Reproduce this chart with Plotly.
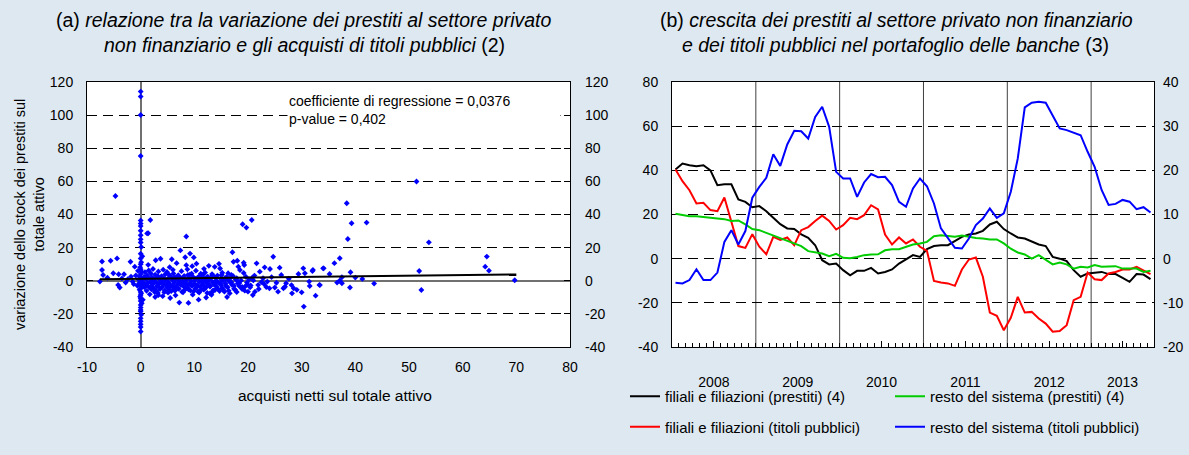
import plotly.graph_objects as go

# ---------------- panel (a): scatter data ----------------
# points on / near the vertical axis (x ~ 0)
pts_axis = [(0, 114.2), (0, 111.2), (0, 100.1), (0, 75.3), (0, 36.4), (0, 34.5), (0, 33.0), (0, 30.2),
            (0, 27.5), (0, 25.0), (0, 23.1), (0.1, 20.4), (0, 16.3), (0, 13.5), (0.1, 11.2), (0, 10.0),
            (-0.1, 8.1), (0, 7.0), (0.2, 5.5), (0, 4.1), (-0.2, 2.6), (0, 1.6), (0.1, 0.4), (0, -0.8),
            (-0.3, -1.5), (0, -2.4), (0.2, -3.5), (0, -4.7), (-0.2, -5.5), (0, -6.8), (0.1, -7.5), (0, -8.6),
            (-0.1, -9.6), (0, -10.8), (0, -12.2), (0.2, -13.6), (0, -14.6), (0, -16.2), (0, -17.6), (0, -18.6),
            (0.1, -20.6), (0, -22.7), (0, -24.5), (0, -26.3), (0, -28.0), (0, -30.7), (1.2, 28.6), (1.8, 36.7),
            (1.4, 28.7), (-0.4, 0.8), (-0.6, -3.0), (0.3, 14.8), (0.4, -11.5), (-0.5, 6.0)]

# points with negative purchases
pts_left = [(-7.6, -0.5), (-7.2, 11.6), (-7.2, 6.5), (-7.0, 3.5), (-5.6, 12.1), (-5.1, 4.5), (-4.7, 51.2),
            (-4.4, 13.5), (-4.1, 3.9), (-4.2, -2.5), (-3.9, -4.1), (-3.1, 3.9), (-2.8, -1.1), (-1.9, 11.5),
            (-1.1, 8.5), (-1.5, -0.5), (-1.8, 2.5), (-2.4, 0.9), (-3.5, 1.4), (-6.2, 1.8), (-1.3, -2.0),
            (-0.9, 3.2)]

# main cloud
pts_cloud = [(0.5, -1.2), (0.6, 2.3), (0.7, -4.0), (0.8, 5.1), (0.9, -2.7), (1.0, 0.8), (1.1, -6.1), (1.2, 3.2),
             (1.3, -1.5), (1.4, 9.6), (1.5, -3.8), (1.6, 1.4), (1.7, -8.2), (1.8, -0.6), (1.9, 4.4), (2.0, -5.2),
             (2.1, 2.0), (2.2, -2.2), (2.3, 7.1), (2.4, -4.6), (2.5, 0.3), (2.6, -6.8), (2.7, 3.6), (2.8, 12.4),
             (2.9, -1.0), (3.0, -3.3), (3.1, 1.9), (3.2, -7.4), (3.3, 5.6), (3.4, -2.0), (3.5, 0.9), (3.6, -5.0),
             (3.7, 13.3), (3.8, -0.4), (3.9, 2.8), (4.0, -3.9), (4.1, -9.3), (4.2, 6.7), (4.3, -1.6), (4.4, 1.2),
             (4.5, -5.9), (4.6, 3.9), (4.7, -2.8), (4.8, 0.2), (4.9, 5.3), (5.0, -4.3), (5.1, -7.2), (5.2, 1.6),
             (5.3, -1.3), (5.4, 8.2), (5.5, -3.1), (5.6, 2.6), (5.7, -6.3), (5.8, 13.0), (5.9, 0.5), (6.0, -2.4),
             (6.1, 4.4), (6.2, -5.3), (6.3, -0.8), (6.4, 2.1), (6.5, -8.8), (6.6, -3.6), (6.7, 10.6), (6.8, 1.0),
             (6.9, -1.9), (7.0, 3.3), (7.1, -4.9), (7.2, -13.2), (7.3, 0.0), (7.4, 18.3), (7.5, -2.6), (7.6, 5.8),
             (7.7, -6.7), (7.8, 1.7), (7.9, -0.9), (8.0, -3.4), (8.1, 2.9), (8.2, -5.6), (8.3, 14.2), (8.4, -1.4),
             (8.5, 9.4), (8.6, 0.7), (8.7, -4.2), (8.8, 3.5), (8.9, -13.4), (9.0, -2.1), (9.1, 1.3), (9.2, 16.4),
             (9.3, -6.0), (9.4, -0.3), (9.5, 4.2), (9.6, -3.0), (9.7, -8.4), (9.8, 2.2), (9.9, 14.1), (10.0, -1.7),
             (10.1, 0.4), (10.2, -4.7), (10.3, 6.1), (10.4, 10.3), (10.5, -2.5), (10.6, 1.8), (10.7, -6.5),
             (10.8, -11.4), (10.9, -0.6), (11.0, 3.0), (11.1, -3.7), (11.2, 0.9), (11.3, -5.4), (11.4, 2.5),
             (11.5, -1.2), (11.6, 3.6), (11.7, -5.3), (11.8, -2.9), (11.9, 1.1), (12.0, 5.0), (12.1, -0.2),
             (12.2, -4.0), (12.3, 2.0), (12.4, -7.4), (12.5, 2.4), (12.6, -1.9), (12.7, 9.0), (12.8, 0.6),
             (12.9, -7.6), (13.0, -3.2), (13.1, 1.5), (13.2, -8.5), (13.3, 4.0), (13.4, -0.9), (13.5, -5.8),
             (13.6, 2.7), (13.7, -2.3), (13.8, 8.4), (13.9, -5.5), (14.0, 0.1), (14.1, -3.5), (14.3, 3.1),
             (14.5, -1.1), (14.7, -6.2), (14.8, 7.4), (14.9, 1.4), (15.0, -2.7), (15.1, 3.5), (15.2, -4.4),
             (15.4, 0.3), (15.6, -6.6), (15.7, 1.5), (15.8, -1.8), (16.0, 2.3), (16.2, -3.9), (16.3, 4.5),
             (16.5, -0.5), (16.6, -7.6), (16.8, 1.9), (16.9, 3.5), (17.0, -2.4), (17.1, 17.2), (17.3, 11.5),
             (17.4, -4.8), (17.6, -5.5), (17.7, 0.8), (17.9, 1.5), (18.0, 12.1), (18.1, -1.6), (18.2, 8.5),
             (18.4, -3.3), (18.5, 6.5), (18.7, 0.2), (18.9, -5.0), (19.2, 10.9), (19.3, 9.5), (19.4, -3.6),
             (19.6, 2.4), (19.8, -1.1), (20.0, -6.6), (20.2, 0.9), (20.5, -2.9), (20.7, 1.5), (20.9, -8.6),
             (21.2, 3.1), (21.3, -6.6), (21.6, 10.5), (21.9, -2.5), (22.2, 5.5), (22.5, -0.8), (22.8, 1.5),
             (23.1, 8.1), (23.4, -3.8), (23.6, -0.5), (24.1, 7.1), (24.4, 2.2), (24.7, 14.5), (25.0, -4.1),
             (25.3, -1.2), (25.6, -6.6), (25.9, 7.9), (26.2, 3.5), (26.6, -4.5), (26.9, -3.6), (27.1, -1.5),
             (27.6, 1.2), (28.1, -2.6), (28.2, -7.6), (28.5, -4.5), (29.1, -5.5), (29.4, 4.1), (30.0, -7.0),
             (30.3, 7.5), (30.4, -15.6), (30.6, 4.5), (31.4, -0.5), (31.5, -3.2), (32.0, 5.9), (32.1, 6.5),
             (32.6, -9.0), (33.3, -2.5), (33.4, -2.6), (34.0, 7.5), (34.1, 7.5),
             (1.2, -2.8), (1.9, -4.1), (2.4, 1.1), (2.9, -6.0), (3.4, -3.8), (3.9, -1.2), (4.4, -6.9), (4.9, -2.0),
             (5.4, -5.6), (5.9, -3.5), (6.4, -6.1), (6.9, -4.4), (7.4, -1.0), (7.9, -7.0), (8.4, -3.0), (8.9, -5.1),
             (9.4, -2.8), (9.9, -6.3), (10.4, -3.9), (10.9, -7.1), (11.4, -2.6), (11.9, -5.0), (12.4, -1.4),
             (12.9, -3.5), (13.4, -6.7), (13.9, -2.0), (14.4, -4.9), (14.9, -1.3), (15.4, -5.5), (15.9, -3.2),
             (16.4, -6.0), (16.9, -0.9), (17.4, -3.0), (17.9, -6.8), (18.4, -1.4), (18.9, -3.8), (19.4, -6.0),
             (19.9, -2.2), (3.2, 2.8), (5.2, 3.9), (7.2, 2.4), (9.2, 3.8), (11.2, 4.3), (13.2, 2.6), (15.2, 4.8),
             (17.2, 2.9), (19.2, 4.7), (2.2, -1.6), (4.2, -0.6), (6.2, 0.9), (8.2, -0.4), (10.2, 1.1), (12.2, 0.3),
             (14.2, -0.2), (16.2, 0.7), (18.2, -0.7), (20.4, -4.0), (21.0, 0.2), (22.0, -5.0), (23.0, -2.0),
             (24.0, -4.6), (1.5, 6.2), (2.7, -9.8), (6.0, 6.6), (8.7, 6.9), (11.8, 7.2), (14.6, 10.2), (16.1, -9.8),
             (5.5, -10.4), (3.3, -8.7), (12.2, -10.1), (9.6, 8.8)]

# isolated points on the right
pts_right = [(19.0, 34.1), (19.7, 32.1), (20.7, 36.7), (8.5, 26.7), (38.4, 46.8), (39.3, 34.7), (42.1, 35.1),
             (38.6, 25.2), (53.7, 23.2), (51.4, 59.9), (36.1, 10.6), (37.1, 13.6), (35.2, 4.1), (36.6, -1.1),
             (37.1, 0.1), (37.5, -1.5), (37.5, 2.1), (39.1, 5.1), (40.0, 1.9), (39.0, -4.1), (41.3, 1.1),
             (43.5, -1.7), (51.9, 5.9), (52.3, -5.6), (64.5, 14.6), (64.2, 8.5), (64.9, 6.1), (69.7, 0.3)]

all_pts = pts_axis + pts_left + pts_cloud + pts_right
scatter_x = [p[0] for p in all_pts]
scatter_y = [p[1] for p in all_pts]

# regression line
reg_x = [-7.6, 70.0]
reg_y = [0.9, 3.8]

# axis tick values
a_xticks = [-10, 0, 10, 20, 30, 40, 50, 60, 70, 80]
a_yticks = [-40, -20, 0, 20, 40, 60, 80, 100, 120]
b_yticks = [-40, -20, 0, 20, 40, 60, 80]
b_y2ticks = [-20, -10, 0, 10, 20, 30, 40]

# ---------------- panel (b): monthly series Jan 2008 - Sep 2013 ----------------
years = ["2008", "2009", "2010", "2011", "2012", "2013"]
months = list(range(69))

filiali_prestiti = [40.4, 43.1, 42.3, 41.9, 42.3, 40.0, 33.3, 33.7, 33.7, 26.8, 25.7, 23.3,
                    23.8, 21.5, 18.5, 15.6, 13.7, 13.4, 11.0, 9.4, 6.1, -0.7, -2.6, -2.2,
                    -5.2, -7.5, -5.5, -5.5, -4.2, -6.7, -6.0, -4.9, -2.2, -0.4, 1.6, 0.8,
                    4.3, 5.7, 6.1, 6.1, 7.9, 9.9, 10.9, 11.4, 12.6, 15.5, 16.7, 13.4,
                    11.4, 9.6, 9.1, 7.9, 6.4, 5.7, 0.8, 0.0, -1.1, -5.2, -8.2, -6.7,
                    -6.3, -6.0, -7.0, -7.0, -8.7, -10.5, -7.0, -7.2, -9.3]

resto_prestiti = [20.3, 19.8, 19.2, 19.2, 18.9, 18.5, 18.2, 17.9, 17.1, 17.3, 15.5, 13.4,
                  12.9, 11.7, 10.3, 9.1, 8.1, 6.9, 5.7, 3.4, 2.8, 2.3, 1.1, 2.2,
                  0.4, 0.2, 0.8, 1.6, 1.9, 2.0, 3.8, 4.3, 4.3, 5.4, 6.4, 6.9,
                  7.6, 10.2, 10.6, 10.3, 9.9, 10.5, 9.9, 9.4, 9.1, 8.7, 8.7, 6.9,
                  4.5, 2.8, 1.9, 0.0, 1.6, -0.7, -2.6, -1.7, -2.6, -4.5, -3.7, -4.0,
                  -2.9, -3.7, -3.7, -3.4, -4.5, -4.5, -4.5, -6.0, -5.5]

filiali_titoli = [40.4, 35.1, 31.0, 25.0, 25.3, 22.0, 21.5, 27.7, 16.7, 5.7, 4.9, 11.1,
                  5.4, 2.0, 9.9, 8.5, 9.6, 6.1, 12.9, 14.3, 17.1, 19.5, 17.1, 13.2,
                  15.2, 18.5, 17.9, 19.7, 24.2, 22.3, 10.9, 6.4, 9.6, 6.9, 8.7, 5.4,
                  3.5, -10.1, -10.8, -11.2, -12.3, -4.9, -0.4, 0.5, -8.2, -24.4, -25.9, -32.4,
                  -26.8, -17.3, -24.4, -24.1, -27.1, -29.4, -33.1, -32.8, -30.1, -18.8, -17.3, -6.3,
                  -9.3, -9.7, -6.7, -6.0, -4.9, -4.9, -3.7, -5.2, -7.0]

resto_titoli = [-10.9, -11.2, -9.7, -4.8, -9.7, -9.7, -6.3, 7.6, 12.9, 6.4, 12.5, 27.6,
                32.5, 36.6, 47.3, 42.0, 51.7, 57.9, 57.7, 54.4, 64.2, 68.8, 59.7, 39.3,
                36.3, 36.3, 28.0, 34.5, 38.3, 36.9, 37.1, 33.3, 25.7, 23.5, 31.8, 36.3,
                32.8, 25.0, 13.7, 9.1, 4.9, 4.6, 9.1, 15.2, 18.2, 22.7, 18.5, 20.5,
                30.3, 45.4, 68.5, 70.6, 71.0, 70.6, 64.7, 59.0, 58.2, 57.1, 55.9, 48.4,
                41.6, 31.1, 24.3, 24.8, 26.6, 25.8, 22.4, 23.3, 20.9]

series_b = [
    ("filiali e filiazioni (prestiti) (4)", filiali_prestiti, "#000000", "legend"),
    ("filiali e filiazioni (titoli pubblici)", filiali_titoli, "#FF0000", "legend"),
    ("resto del sistema (prestiti) (4)", resto_prestiti, "#00CC00", "legend2"),
    ("resto del sistema (titoli pubblici)", resto_titoli, "#0000FF", "legend2"),
]

# ---------------- styling ----------------
BG = "#DDE8F1"
FONT = "Liberation Sans, Arial, sans-serif"
W, H = 1189, 455


def px_x(v):
    return v / W


def px_y(v):
    return 1 - v / H


def labels(vals):
    return [str(v) for v in vals]


dom_ax = [px_x(87), px_x(570)]
dom_bx = [px_x(672), px_x(1154)]
dom_y = [px_y(347), px_y(82)]

fig = go.Figure()

fig.add_trace(go.Scatter(x=scatter_x, y=scatter_y, mode="markers", xaxis="x", yaxis="y",
                         marker=dict(symbol="diamond", size=4.5, color="#0000FF", line=dict(width=0)),
                         showlegend=False))
fig.add_trace(go.Scatter(x=reg_x, y=reg_y, mode="lines", xaxis="x", yaxis="y",
                         line=dict(color="#000000", width=2), showlegend=False))
# right-hand mirror axes
fig.add_trace(go.Scatter(x=[None], y=[None], xaxis="x", yaxis="y3", showlegend=False, hoverinfo="skip"))
fig.add_trace(go.Scatter(x=[None], y=[None], xaxis="x2", yaxis="y4", showlegend=False, hoverinfo="skip"))

for name, vals, col, leg in series_b:
    fig.add_trace(go.Scatter(x=months, y=vals, mode="lines", name=name, xaxis="x2", yaxis="y2",
                             line=dict(color=col, width=2), legend=leg, legendgroup=name))

grid_common = dict(showgrid=True, gridcolor="#000000", gridwidth=1, griddash="10px,6px")
tickfont = dict(family=FONT, size=14, color="#000000")

year_bounds = [m - 0.5 for m in months if m % 12 == 0 and m > 0]
year_centers = [(12 * k + min(12 * k + 12, len(months))) / 2 - 0.5 for k in range(len(years))]

fig.update_layout(
    width=W, height=H,
    margin=dict(l=0, r=0, t=0, b=0),
    paper_bgcolor=BG, plot_bgcolor="#FFFFFF",
    font=dict(family=FONT, size=14, color="#000000"),
    xaxis=dict(domain=dom_ax, anchor="y", range=[-10, 80], tickmode="array", tickvals=a_xticks,
               ticktext=labels(a_xticks), showgrid=False,
               zeroline=True, zerolinecolor="#707070", zerolinewidth=1.5,
               showline=True, mirror=True, linecolor="#000000", linewidth=1,
               ticks="", ticklabelstandoff=7, tickfont=tickfont, automargin=False),
    yaxis=dict(domain=dom_y, anchor="x", range=[-40, 120], tickmode="array", tickvals=a_yticks,
               ticktext=labels(a_yticks), **grid_common,
               zeroline=True, zerolinecolor="#707070", zerolinewidth=1.5,
               showline=True, mirror=True, linecolor="#000000", linewidth=1,
               ticks="inside", ticklen=6, tickcolor="#000000",
               ticklabelstandoff=10, tickfont=tickfont, automargin=False),
    yaxis3=dict(overlaying="y", anchor="x", side="right", range=[-40, 120], tickmode="array",
                tickvals=a_yticks, ticktext=labels(a_yticks),
                showgrid=False, zeroline=False, ticks="inside", ticklen=6, tickcolor="#000000",
                ticklabelstandoff=14, tickfont=tickfont, automargin=False),
    xaxis2=dict(domain=dom_bx, anchor="y2", range=[-0.5, len(months) - 0.5],
                tickmode="array", tickvals=year_centers, ticktext=years,
                ticks="inside", ticklen=6, tickcolor="#000000", showgrid=False, zeroline=False,
                minor=dict(tickmode="linear", tick0=-0.5, dtick=1, ticks="inside", ticklen=4,
                           tickcolor="#000000", showgrid=False),
                showline=True, mirror=True, linecolor="#000000", linewidth=1,
                ticklabelstandoff=22, tickfont=tickfont, automargin=False),
    yaxis2=dict(domain=dom_y, anchor="x2", range=[-40, 80], tickmode="array", tickvals=b_yticks,
                ticktext=labels(b_yticks), **grid_common,
                zeroline=False, showline=True, mirror=True, linecolor="#000000", linewidth=1,
                ticks="", ticklabelstandoff=10, tickfont=tickfont, automargin=False),
    yaxis4=dict(overlaying="y2", anchor="x2", side="right", range=[-20, 40], tickmode="array",
                tickvals=b_y2ticks, ticktext=labels(b_y2ticks),
                showgrid=False, zeroline=False, ticks="", ticklabelstandoff=8,
                tickfont=tickfont, automargin=False),
    legend=dict(x=px_x(625), y=px_y(380), xanchor="left", yanchor="top", orientation="v",
                bgcolor="rgba(0,0,0,0)", font=dict(family=FONT, size=15), tracegroupgap=8,
                itemwidth=30),
    legend2=dict(x=px_x(890), y=px_y(380), xanchor="left", yanchor="top", orientation="v",
                 bgcolor="rgba(0,0,0,0)", font=dict(family=FONT, size=15), tracegroupgap=8,
                 itemwidth=30),
)

for b in year_bounds:
    fig.add_shape(type="line", xref="x2", yref="y2 domain", x0=b, x1=b, y0=0, y1=1,
                  line=dict(color="#404040", width=1), layer="below")

annots = [
    dict(x=px_x(303), y=px_y(20), text="(a) <i>relazione tra la variazione dei prestiti al settore privato</i>",
         size=19.5),
    dict(x=px_x(304), y=px_y(45), text="<i>non finanziario e gli acquisti di titoli pubblici</i> (2)", size=19.5),
    dict(x=px_x(896), y=px_y(20), text="(b) <i>crescita dei prestiti al settore privato non finanziario</i>",
         size=19.5),
    dict(x=px_x(895), y=px_y(45), text="<i>e dei titoli pubblici nel portafoglio delle banche</i> (3)", size=19.5),
    dict(x=px_x(335), y=px_y(395), text="acquisti netti sul totale attivo", size=15.5),
]
for a in annots:
    fig.add_annotation(xref="paper", yref="paper", x=a["x"], y=a["y"], text=a["text"], showarrow=False,
                       xanchor="center", yanchor="middle", font=dict(family=FONT, size=a["size"], color="#000000"))

fig.add_annotation(xref="paper", yref="paper", x=px_x(29), y=px_y(215),
                   text="variazione dello stock dei prestiti sul<br>totale attivo", textangle=-90,
                   showarrow=False, xanchor="center", yanchor="middle",
                   font=dict(family=FONT, size=14.5, color="#000000"))
# regression statistics box (white background hides the gridline behind it)
fig.add_annotation(xref="paper", yref="paper", x=px_x(287), y=px_y(109.5),
                   text="coefficiente di regressione = 0,0376<br>p-value = 0,402", showarrow=False,
                   xanchor="left", yanchor="middle", align="left", width=270, borderpad=1,
                   bgcolor="#FFFFFF", font=dict(family=FONT, size=14, color="#000000"))

fig.write_html("out.html", config={"displayModeBar": False},
               post_script="document.body.style.margin='0px';document.body.style.overflow='hidden';")
